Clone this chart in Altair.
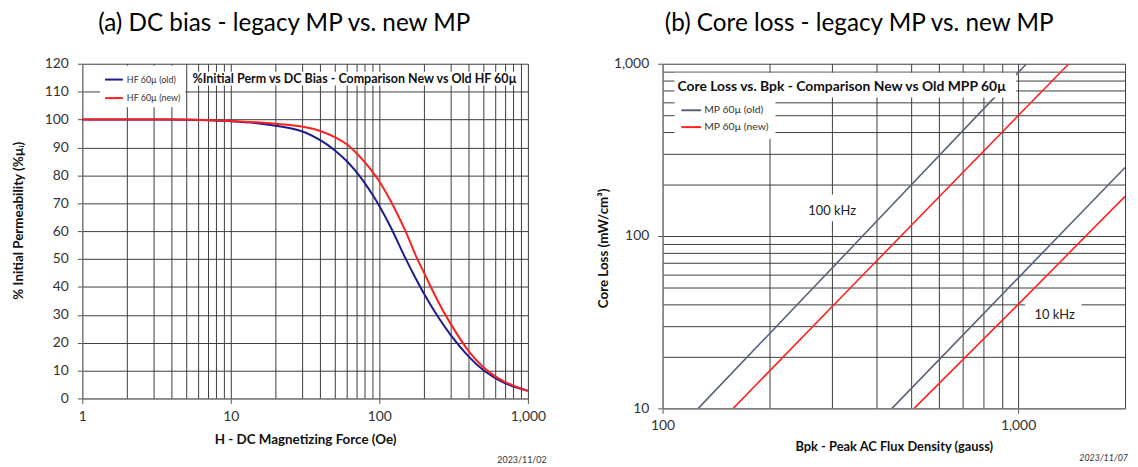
import altair as alt
import pandas as pd

FONT = "Lato"

# ---------------- (a) DC bias data ----------------
h_oe = [1, 2, 3, 5, 7, 10, 15, 20, 30, 40, 50, 60, 70, 80, 90, 100, 120, 150, 175, 200,
        250, 300, 400, 500, 600, 700, 800, 1000]
perm_old = [100, 100, 100, 99.9, 99.7, 99.4, 98.7, 97.8, 95.8, 92.6, 89.0, 85.2, 81.2, 77.1,
            73.0, 69.0, 61.1, 50.2, 43.2, 37.5, 29.0, 23.0, 15.0, 10.2, 7.4, 5.5, 4.3, 2.7]
perm_new = [100, 100, 100, 100, 99.8, 99.5, 99.0, 98.5, 97.5, 95.9, 93.7, 91.2, 88.0, 84.6,
            81.2, 77.8, 70.5, 60.0, 51.5, 45.0, 34.5, 27.0, 16.9, 11.3, 8.0, 5.9, 4.6, 2.7]
series_a = ["HF 60µ (old)", "HF 60µ (new)"]
colors_a = ["#1c1c8e", "#ff1f1f"]

grid_h = [1, 2, 3, 4, 5, 6, 7, 8, 9, 10, 20, 30, 40, 50, 60, 70, 80, 90, 100,
          200, 300, 400, 500, 600, 700, 800, 900, 1000]
major_h = [1, 10, 100, 1000]
grid_perm = [0, 10, 20, 30, 40, 50, 60, 70, 80, 90, 100, 110, 120]

# ---------------- (b) Core loss data ----------------
bpk_100k_old = [126, 362, 1057]
loss_100k_old = [10, 98, 1000]
bpk_100k_new = [158, 362, 1390]
loss_100k_new = [10, 58, 1000]
bpk_10k_old = [442, 1000, 2000]
loss_10k_old = [10, 57, 250]
bpk_10k_new = [510, 1000, 2000]
loss_10k_new = [10, 40, 170]
series_b = ["MP 60µ (old)", "MP 60µ (new)"]
colors_b = ["#56657a", "#ff2424"]

grid_bpk = [100, 200, 300, 400, 500, 600, 700, 800, 900, 1000, 2000]
major_bpk = [100, 1000]
grid_loss = [10, 20, 30, 40, 50, 60, 70, 80, 90, 100, 200, 300, 400, 500, 600, 700, 800, 900, 1000]
major_loss = [10, 100, 1000]

freq_labels = ["100 kHz", "10 kHz"]
freq_label_bpk = [300, 1268]
freq_label_loss = [139, 34.7]

# ---------------- tables ----------------
df_a = pd.concat([
    pd.DataFrame({"H": h_oe, "perm": perm_old, "series": series_a[0]}),
    pd.DataFrame({"H": h_oe, "perm": perm_new, "series": series_a[1]}),
])
df_b = pd.concat([
    pd.DataFrame({"B": bpk_100k_old, "loss": loss_100k_old, "series": series_b[0], "f": "100k"}),
    pd.DataFrame({"B": bpk_100k_new, "loss": loss_100k_new, "series": series_b[1], "f": "100k"}),
    pd.DataFrame({"B": bpk_10k_old, "loss": loss_10k_old, "series": series_b[0], "f": "10k"}),
    pd.DataFrame({"B": bpk_10k_new, "loss": loss_10k_new, "series": series_b[1], "f": "10k"}),
])
df_lab = pd.DataFrame({"text": freq_labels, "B": freq_label_bpk, "loss": freq_label_loss})


def major_expr(vals):
    return "indexof([" + ",".join(str(v) for v in vals) + "], datum.value) >= 0"


def tick_cond(vals):
    return {"condition": {"test": major_expr(vals), "value": 1}, "value": 0}


def label_expr(vals):
    return major_expr(vals) + " ? format(datum.value, ',') : ''"


GRID = "#3c3c3c"
axis_common = dict(
    grid=True, gridColor=GRID, gridWidth=1, gridOpacity=1,
    labelFont=FONT, labelFontSize=14, labelColor="#333333",
    titleFont=FONT, titleFontWeight="bold", titleColor="#111111",
    tickColor="#555555", tickSize=5, domainColor="#808080",
    labelOverlap=False, labelBound=False, labelFlush=False,
)

# ---------------- chart (a) ----------------
WA, HA = 450, 338
xa = alt.X("H:Q", scale=alt.Scale(type="log", domain=[1, 1000], nice=False),
           axis=alt.Axis(values=grid_h, labelExpr=label_expr(major_h), tickOpacity=tick_cond(major_h),
                         title="H - DC Magnetizing  Force (Oe)", titleFontSize=13.5,
                         labelPadding=6, titlePadding=10, **axis_common))
ya = alt.Y("perm:Q", scale=alt.Scale(domain=[0, 120], nice=False),
           axis=alt.Axis(values=grid_perm, title="% Initial Permeability (%µᵢ)", titleFontSize=13.5,
                         labelPadding=9, titlePadding=19, titleY=158, **axis_common))

lines_a = alt.Chart(df_a).mark_line(strokeWidth=2, interpolate="catmull-rom").encode(
    x=xa, y=ya,
    color=alt.Color("series:N", scale=alt.Scale(domain=series_a, range=colors_a),
                    legend=alt.Legend(orient="none", legendX=18, legendY=2, title=None,
                                      fillColor="white", padding=4, symbolType="stroke",
                                      symbolStrokeWidth=2, symbolSize=324, rowPadding=3.7,
                                      labelFont=FONT, labelFontSize=9, labelColor="#333333",
                                      labelOffset=3)),
    order=alt.Order("H:Q"),
)
box_a = alt.Chart().mark_rect(fill="white").encode(
    x=alt.value(111), x2=alt.value(439), y=alt.value(8), y2=alt.value(22))
title_a = alt.Chart().mark_text(font=FONT, fontSize=12.6, fontWeight="bold", color="#111111",
                                 align="center", baseline="middle").encode(
    x=alt.value(275), y=alt.value(15),
    text=alt.value("%Initial Perm vs DC Bias - Comparison New vs Old HF 60µ"))
date_a = alt.Chart().mark_text(font=FONT, fontSize=9, color="#333333", align="right",
                                baseline="middle").encode(
    x=alt.value(469), y=alt.value(400), text=alt.value("2023/11/02"))

chart_a = alt.layer(lines_a, box_a, title_a, date_a).properties(
    width=WA, height=HA,
    title=alt.TitleParams("(a) DC bias - legacy MP vs. new MP", font=FONT, fontSize=24.5,
                          fontWeight="normal", color="#000000", anchor="middle",
                          frame="group", dx=-21, offset=21),
)

# ---------------- chart (b) ----------------
WB, HB = 467, 348
xb = alt.X("B:Q", scale=alt.Scale(type="log", domain=[100, 2000], nice=False),
           axis=alt.Axis(values=grid_bpk, labelExpr=label_expr(major_bpk), tickOpacity=tick_cond(major_bpk),
                         title="Bpk - Peak AC Flux Density (gauss)", titleFontSize=13,
                         labelPadding=5, titlePadding=9, **axis_common))
yb = alt.Y("loss:Q", scale=alt.Scale(type="log", domain=[10, 1000], nice=False),
           axis=alt.Axis(values=grid_loss, labelExpr=label_expr(major_loss), tickOpacity=tick_cond(major_loss),
                         title="Core Loss (mW/cm³)", titleFontSize=13.5, titleY=186,
                         labelPadding=9, titlePadding=3, **axis_common))

lines_b = alt.Chart(df_b).mark_line(strokeWidth=1.6, clip=True).encode(
    x=xb, y=yb,
    color=alt.Color("series:N", scale=alt.Scale(domain=series_b, range=colors_b),
                    legend=alt.Legend(orient="none", legendX=12, legendY=30, title=None,
                                      fillColor="white", padding=6, symbolType="stroke",
                                      symbolStrokeWidth=2, symbolSize=400, rowPadding=0,
                                      labelFont=FONT, labelFontSize=10.5, labelColor="#333333",
                                      labelOffset=2)),
    detail="f:N",
    order=alt.Order("B:Q"),
)
box_b = alt.Chart().mark_rect(fill="white").encode(
    x=alt.value(12), x2=alt.value(357), y=alt.value(9), y2=alt.value(34))
title_b = alt.Chart().mark_text(font=FONT, fontSize=14, fontWeight="bold", color="#111111",
                                 align="left", baseline="middle").encode(
    x=alt.value(15), y=alt.value(24),
    text=alt.value("Core Loss vs. Bpk - Comparison  New vs Old MPP 60µ"))
labbox_b = alt.Chart(pd.DataFrame({"x": [140, 366], "x2": [200, 423], "y": [132, 237], "y2": [159, 262]})).mark_rect(
    fill="white").encode(x=alt.X("x:Q", scale=None), x2="x2:Q", y=alt.Y("y:Q", scale=None), y2="y2:Q")
labtext_b = alt.Chart(df_lab).mark_text(font=FONT, fontSize=13, color="#222222",
                                        align="center", baseline="middle").encode(
    x=alt.X("B:Q", scale=alt.Scale(type="log", domain=[100, 2000], nice=False)),
    y=alt.Y("loss:Q", scale=alt.Scale(type="log", domain=[10, 1000], nice=False)),
    text="text:N")
date_b = alt.Chart().mark_text(font=FONT, fontSize=9, fontStyle="italic", color="#333333",
                                align="right", baseline="middle").encode(
    x=alt.value(470), y=alt.value(398), text=alt.value("2023/11/07"))

chart_b = alt.layer(lines_b, box_b, title_b, labbox_b, labtext_b, date_b).properties(
    width=WB, height=HB,
    title=alt.TitleParams("(b) Core loss - legacy MP vs. new MP", font=FONT, fontSize=24.5,
                          fontWeight="normal", color="#000000", anchor="middle",
                          frame="group", dx=-35, offset=21),
)

chart = alt.hconcat(chart_a, chart_b, spacing=50).resolve_scale(color="independent").properties(
    padding={"left": 3, "top": 0, "right": 2, "bottom": 5}
).configure_view(stroke=None)

chart.save("out.html", embed_options={"renderer": "svg", "actions": False})
